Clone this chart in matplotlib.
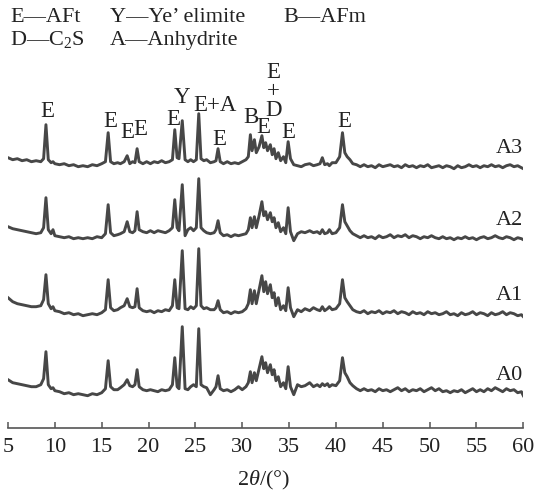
import numpy as np
import matplotlib.pyplot as plt

plt.rcParams['font.family'] = ['Liberation Serif', 'DejaVu Serif']
plt.rcParams['mathtext.fontset'] = 'custom'
plt.rcParams['mathtext.rm'] = 'Liberation Serif'
plt.rcParams['mathtext.it'] = 'Liberation Serif:italic'

# 2theta grid (deg) shared by all four patterns
theta = [5.0, 5.5, 6.0, 6.5, 7.0, 7.5, 8.0, 8.5, 8.8, 9.05,
         9.3, 9.6, 9.8, 10.0, 10.5, 11.0, 11.5, 12.0, 12.5, 13.0,
         13.5, 14.0, 14.5, 15.0, 15.4, 15.69, 15.95, 16.3, 16.7, 17.0,
         17.4, 17.72, 18.0, 18.3, 18.55, 18.78, 19.0, 19.4, 19.8, 20.2,
         20.6, 21.0, 21.4, 21.8, 22.2, 22.55, 22.8, 23.05, 23.25, 23.6,
         23.9, 24.2, 24.5, 24.8, 25.1, 25.36, 25.6, 25.9, 26.2, 26.6,
         27.0, 27.2, 27.42, 27.65, 28.0, 28.4, 28.8, 29.2, 29.6, 30.0,
         30.4, 30.65, 30.87, 31.05, 31.3, 31.5, 31.8, 32.1, 32.3, 32.5,
         32.7, 33.0, 33.2, 33.4, 33.6, 33.85, 34.1, 34.4, 34.65, 34.9,
         35.15, 35.5, 35.9, 36.3, 36.7, 37.2, 37.6, 38.0, 38.3, 38.55,
         38.8, 39.1, 39.3, 39.6, 40.0, 40.4, 40.7, 40.95, 41.2, 41.5,
         41.8, 42.2, 42.6, 43.0, 43.4, 43.8, 44.2, 44.6, 45.0, 45.4,
         45.8, 46.2, 46.6, 47.0, 47.4, 47.8, 48.2, 48.6, 49.0, 49.4,
         49.8, 50.2, 50.6, 51.0, 51.4, 51.8, 52.2, 52.6, 53.0, 53.4,
         53.8, 54.2, 54.6, 55.0, 55.4, 55.8, 56.2, 56.6, 57.0, 57.4,
         57.8, 58.2, 58.6, 59.0, 59.4, 59.8, 60.0]

# intensities (a.u.)
a0 = [11, 8, 7, 6, 5, 4, 4, 6, 12, 39,
      6, 2, 3, 0, -1, -3, -2, -4, -3, -4,
      -5, -3, -4, -2, 2, 30, 4, 1, 1, 3,
      6, 11, 5, 4, 6, 21, 4, 1, 0, 1,
      0, -1, 1, 0, 1, 6, 33, 4, 2, 64,
      2, 1, 4, 6, 4, 62, 6, 4, 3, -4,
      1, 4, 15, 2, 0, 1, -1, 1, 4, 1,
      4, 8, 19, 8, 18, 10, 22, 34, 22, 28,
      18, 26, 16, 21, 10, 14, 4, 8, 2, 24,
      4, -4, 6, 4, 5, 8, 4, 6, 4, 7,
      5, 7, 4, 6, 5, 10, 33, 18, 14, 8,
      5, 2, 0, 2, 0, 1, -1, 2, 0, 1,
      -1, 1, 3, 0, 2, -1, 1, 0, 2, -1,
      1, 3, 0, 2, -1, 0, -2, 0, -1, 1,
      -2, 0, 2, -1, 1, -1, 2, 0, 3, 1,
      -1, 2, 0, 1, -2, -1, -5]

a1 = [14, 10, 8, 7, 6, 5, 5, 6, 12, 37,
      8, 3, 5, 1, 0, -2, -1, -3, -2, -4,
      -3, -2, -3, -1, 2, 32, 4, 1, 2, 4,
      6, 13, 5, 4, 5, 23, 4, 1, 0, 1,
      -1, 1, 0, 2, 1, 6, 32, 4, 3, 61,
      3, 2, 5, 3, 6, 63, 6, 3, 4, 2,
      2, 4, 11, 2, -1, 0, -2, 0, -1, 0,
      3, 8, 22, 8, 21, 8, 22, 36, 20, 30,
      18, 27, 14, 19, 6, 14, 2, 6, 1, 24,
      4, -5, 2, 0, 3, 1, 4, 2, 1, 5,
      1, 3, 5, 2, 3, 8, 32, 14, 10, 6,
      2, 0, -1, 1, -2, 0, -1, 1, -2, 0,
      -1, 1, -2, 0, -1, -3, 0, -2, -1, -3,
      0, -2, -1, -3, -2, 0, -3, -2, -4, -1,
      -3, -2, 0, -3, -1, -2, -4, -1, -3, -2,
      0, -3, -1, -2, -4, -3, -5]

a2 = [9, 7, 6, 5, 4, 3, 2, 3, 8, 38,
      6, 2, 6, 0, -1, -2, -1, -3, -2, -3,
      -2, -3, -1, -2, 2, 31, 3, 0, 1, 2,
      4, 14, 4, 3, 5, 24, 6, 4, 3, 5,
      3, 5, 4, 3, 5, 8, 36, 8, 5, 51,
      0, 6, 8, 5, 8, 57, 8, 5, 3, 2,
      3, 6, 15, 3, 0, 1, -1, 1, 0, 1,
      2, 6, 18, 8, 19, 8, 20, 34, 20, 24,
      16, 23, 14, 18, 8, 13, 4, 8, 2, 28,
      4, -5, 2, 4, 3, 5, 3, 4, 2, 6,
      2, 3, 6, 2, 3, 8, 31, 14, 10, 5,
      2, 0, -2, 0, -2, -1, -3, 0, -2, -1,
      1, -2, 0, -1, 1, -2, 0, -1, -3, -1,
      -2, 0, -2, -3, -1, -3, -2, -4, -2, -3,
      -1, -3, -2, -4, -2, -1, -3, -2, 0, -2,
      -3, -1, -2, -4, -2, -3, -4]

a3 = [5, 3, 4, 2, 3, 1, 2, 1, 4, 38,
      3, 0, 1, -1, -2, -1, -3, -2, -4, -3,
      -4, -2, -3, -1, 1, 30, 1, -1, 0, -1,
      1, 7, -1, 1, 0, 14, 1, -1, 1, -1,
      1, 0, 2, 0, 1, 3, 33, 5, 4, 42,
      3, 1, 3, 1, 3, 49, 4, 2, 3, 0,
      1, 2, 14, 1, -1, 1, -1, 0, -1, 1,
      3, 6, 28, 12, 23, 10, 16, 27, 15, 20,
      12, 18, 8, 14, 4, 10, 2, 6, 0, 21,
      4, -2, -3, -4, -2, -1, -3, -2, -1, 5,
      -2, -1, -3, 0, 0, 6, 30, 10, 6, 3,
      -1, -2, -4, -2, -4, -3, -5, -2, -4, -3,
      -2, -4, -3, -5, -2, -4, -3, -5, -3, -4,
      -2, -5, -4, -3, -5, -3, -4, -6, -3, -5,
      -4, -2, -4, -3, -5, -3, -4, -2, -4, -3,
      -5, -3, -2, -4, -3, -5, -6]

samples = ['A0', 'A1', 'A2', 'A3']
offsets = [37, 116, 192, 265]

# phase marks over the A3 pattern: (text, 2theta, height)
peak_marks = [('E', 9.21, 311.0), ('E', 15.89, 300.7), ('E', 17.70, 289.7),
              ('E', 19.09, 292.7), ('E', 22.64, 302.7), ('Y', 23.62, 325.0),
              ('E+A', 27.09, 317.0), ('E', 27.55, 282.7), ('B', 30.91, 304.7),
              ('E', 32.29, 294.7), ('E', 34.97, 289.4), ('E', 40.86, 300.4)]
stack_mark = ('E\n+\nD', 33.30, 365.5)

legend_rows = [[('E—AFt', 10), ('Y—Ye’ elimite', 110), ('B—AFm', 283)],
               [('D—C$_\\mathrm{2}$S', 10), ('A—Anhydrite', 110)]]

W, H = 537, 490
fig = plt.figure(figsize=(W / 100, H / 100), dpi=100)
ax = fig.add_axes([8 / W, 1 - 427.7 / H, 515.3 / W, 427.7 / H])

th = np.array(theta)
for name, off, ys in zip(samples, offsets, [a0, a1, a2, a3]):
    ax.plot(th, off + np.array(ys), color='#474747', lw=2.1, solid_joinstyle='round')

ax.set_xlim(5, 60)
ax.set_ylim(0, 427.7)
for s in ['top', 'left', 'right']:
    ax.spines[s].set_visible(False)
ax.spines['bottom'].set_color('#555555')
ax.spines['bottom'].set_linewidth(1.2)
ax.set_yticks([])
ax.set_xticks(np.arange(5, 61, 5))
ax.tick_params(axis='x', direction='in', length=4.5, width=1.1, color='#555555',
               labelsize=16, pad=7.5, labelcolor='#222222')
ax.patch.set_alpha(0)

for txt, x, y in peak_marks:
    ax.text(x, y, txt, ha='center', va='baseline', fontsize=16.5, color='#222222')

txt, x, y = stack_mark
ax.text(x, y, txt, ha='center', va='top', multialignment='center',
        linespacing=0.86, fontsize=16.5, color='#222222')

label_base = [47.7, 127.7, 202.7, 274.4]
for name, yb in zip(samples, label_base):
    ax.text(60, yb, name, ha='right', va='baseline', fontsize=16, color='#222222')

for row, yb in zip(legend_rows, [21.7, 45]):
    for txt, xp in row:
        fig.text(xp / W, 1 - yb / H, txt, ha='left', va='baseline', fontsize=16,
                 color='#222222')

fig.text(264 / W, 1 - 485 / H, '2$\\theta$/(°)', ha='center', va='baseline',
         fontsize=16, color='#222222')

fig.savefig('out.png', dpi=100)
